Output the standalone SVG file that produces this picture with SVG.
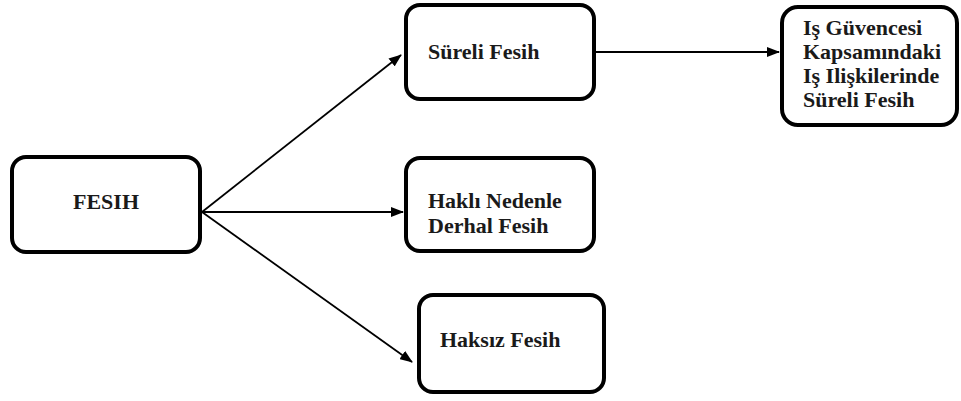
<svg xmlns="http://www.w3.org/2000/svg" width="961" height="401" viewBox="0 0 961 401">
  <style>
    .box { fill: #ffffff; stroke: #000000; stroke-width: 4; }
    .lbl { font-family: "Liberation Serif", "Times New Roman", serif; font-weight: bold; font-size: 22px; fill: #1a1a1a; }
    .edge { fill: none; stroke: #000000; stroke-width: 1.8; marker-end: url(#arrow); }
  </style>
  <defs>
    <marker id="arrow" markerUnits="userSpaceOnUse" markerWidth="13" markerHeight="10" refX="12" refY="5" orient="auto">
      <path d="M0,0 L13,5 L0,10 z" fill="#000000"/>
    </marker>
  </defs>

  <rect width="961" height="401" fill="#ffffff"/>

  <!-- connectors -->
  <g id="connectors">
    <line class="edge" x1="202" y1="212" x2="401" y2="55"/>
    <line class="edge" x1="202" y1="212" x2="403" y2="212"/>
    <line class="edge" x1="202" y1="212" x2="412" y2="362"/>
    <line class="edge" x1="596" y1="52" x2="779" y2="52"/>
  </g>

  <!-- nodes -->
  <g id="fesih">
    <rect class="box" x="12" y="157" width="188" height="95" rx="14"/>
    <text class="lbl" x="73" y="209">FESIH</text>
  </g>

  <g id="sureli-fesih">
    <rect class="box" x="406" y="5" width="188" height="94" rx="14"/>
    <text class="lbl" x="428" y="59">Süreli Fesih</text>
  </g>

  <g id="hakli-nedenle">
    <rect class="box" x="406" y="158" width="188" height="93" rx="14"/>
    <text class="lbl" x="428" y="208">Haklı Nedenle</text>
    <text class="lbl" x="428" y="233">Derhal Fesih</text>
  </g>

  <g id="haksiz-fesih">
    <rect class="box" x="419" y="295" width="185" height="97" rx="14"/>
    <text class="lbl" x="440" y="347">Haksız Fesih</text>
  </g>

  <g id="is-guvencesi">
    <rect class="box" x="782" y="7" width="175" height="118" rx="16"/>
    <text class="lbl" x="803" y="35">Iş Güvencesi</text>
    <text class="lbl" x="803" y="59">Kapsamındaki</text>
    <text class="lbl" x="803" y="83">Iş Ilişkilerinde</text>
    <text class="lbl" x="803" y="107">Süreli Fesih</text>
  </g>
</svg>
